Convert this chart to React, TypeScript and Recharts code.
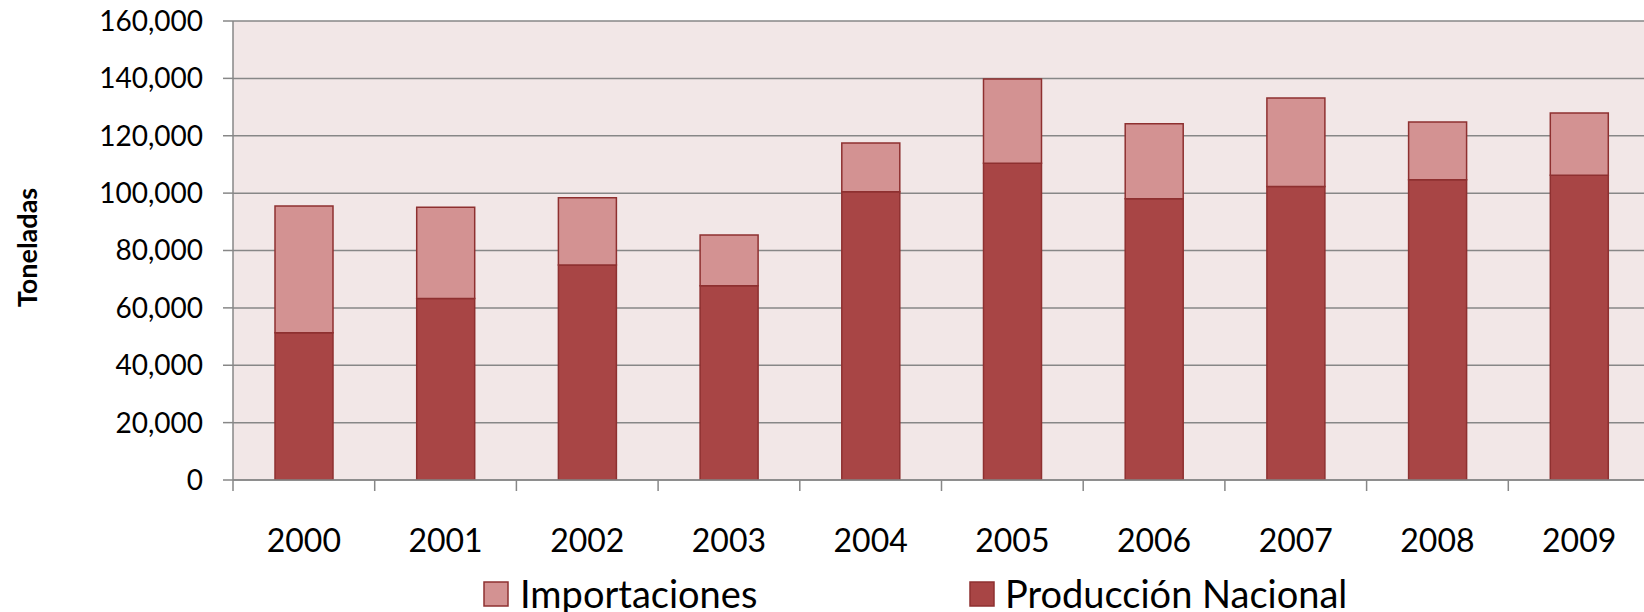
import React from 'react';
import { BarChart, Bar, XAxis, YAxis, CartesianGrid, Legend } from 'recharts';

const years = ['2000', '2001', '2002', '2003', '2004', '2005', '2006', '2007', '2008', '2009'];
const produccionNacional = [51300, 63300, 74950, 67750, 100500, 110400, 98050, 102350, 104700, 106200];
const importaciones = [44200, 31750, 23450, 17650, 16950, 29400, 26150, 30800, 20100, 21750];
const yTicks = [0, 20000, 40000, 60000, 80000, 100000, 120000, 140000, 160000];

const data = years.map((year, i) => ({
  year,
  produccion: produccionNacional[i],
  importaciones: importaciones[i],
}));

const GRID = '#878787';
const DARK = '#A84545';
const LIGHT = '#D39292';
const EDGE = '#8E3030';
const FONT = 'Lato, "Open Sans", sans-serif';

const XTick = (props: any) => {
  const { x, y, payload } = props;
  const half = payload && typeof payload.offset === 'number' ? payload.offset : 0;
  return (
    <g>
      <line x1={x - half} x2={x - half} y1={y} y2={y + 11} stroke={GRID} strokeWidth={1.5} />
      <text x={x} y={y + 72} textAnchor="middle" fontFamily={FONT} fontSize={32} fill="#000">
        {payload.value}
      </text>
    </g>
  );
};

const YLabel = (props: any) => {
  const vb = props.viewBox || { x: 0, y: 0, width: 0, height: 0 };
  const cx = vb.x + 26;
  const cy = vb.y + vb.height / 2 - 3;
  return (
    <text
      x={cx}
      y={cy}
      transform={`rotate(-90, ${cx}, ${cy})`}
      textAnchor="middle"
      dominantBaseline="central"
      fontFamily={FONT}
      fontWeight="bold"
      fontSize={27}
      fill="#000"
    >
      Toneladas
    </text>
  );
};

const LegendContent = () => (
  <svg width={1650} height={70} style={{ display: 'block' }}>
    <rect x={484} y={22} width={24} height={24} fill={LIGHT} stroke={EDGE} strokeWidth={1.5} />
    <text x={520} y={48} fontFamily={FONT} fontSize={38} fill="#000">Importaciones</text>
    <rect x={970} y={22} width={24} height={24} fill={DARK} stroke={EDGE} strokeWidth={1.5} />
    <text x={1005} y={48} fontFamily={FONT} fontSize={38} fill="#000">Producción Nacional</text>
  </svg>
);

export default function App() {
  return (
    <div style={{ position: 'absolute', left: 0, top: 0, width: 1644, height: 612, overflow: 'hidden', background: '#fff' }}>
      <BarChart
        width={1650}
        height={612}
        data={data}
        margin={{ top: 21, right: 0, left: 0, bottom: 72 }}
        barSize={58}
      >
        <CartesianGrid vertical={false} stroke={GRID} strokeWidth={1.5} fill="#F2E7E7" fillOpacity={1} />
        <XAxis
          dataKey="year"
          interval={0}
          height={60}
          tickSize={0}
          tickMargin={0}
          tickLine={false}
          axisLine={{ stroke: GRID, strokeWidth: 1.5 }}
          tick={<XTick />}
        />
        <YAxis
          width={233}
          domain={[0, 160000]}
          ticks={yTicks}
          interval={0}
          allowDataOverflow
          tickSize={10}
          tickMargin={20}
          tickLine={{ stroke: GRID, strokeWidth: 1.5 }}
          axisLine={{ stroke: GRID, strokeWidth: 1.5 }}
          tick={{ fontFamily: FONT, fontSize: 28, fill: '#000' }}
          tickFormatter={(v: number) => v.toLocaleString('en-US')}
          label={<YLabel />}
        />
        <Legend
          layout="horizontal"
          verticalAlign="middle"
          align="center"
          content={<LegendContent />}
          wrapperStyle={{ position: 'absolute', left: 0, top: 560, width: 1650, height: 70 }}
        />
        <Bar dataKey="produccion" name="Producción Nacional" stackId="a" fill={DARK} stroke={EDGE} strokeWidth={1.5} isAnimationActive={false} />
        <Bar dataKey="importaciones" name="Importaciones" stackId="a" fill={LIGHT} stroke={EDGE} strokeWidth={1.5} isAnimationActive={false} />
      </BarChart>
    </div>
  );
}
